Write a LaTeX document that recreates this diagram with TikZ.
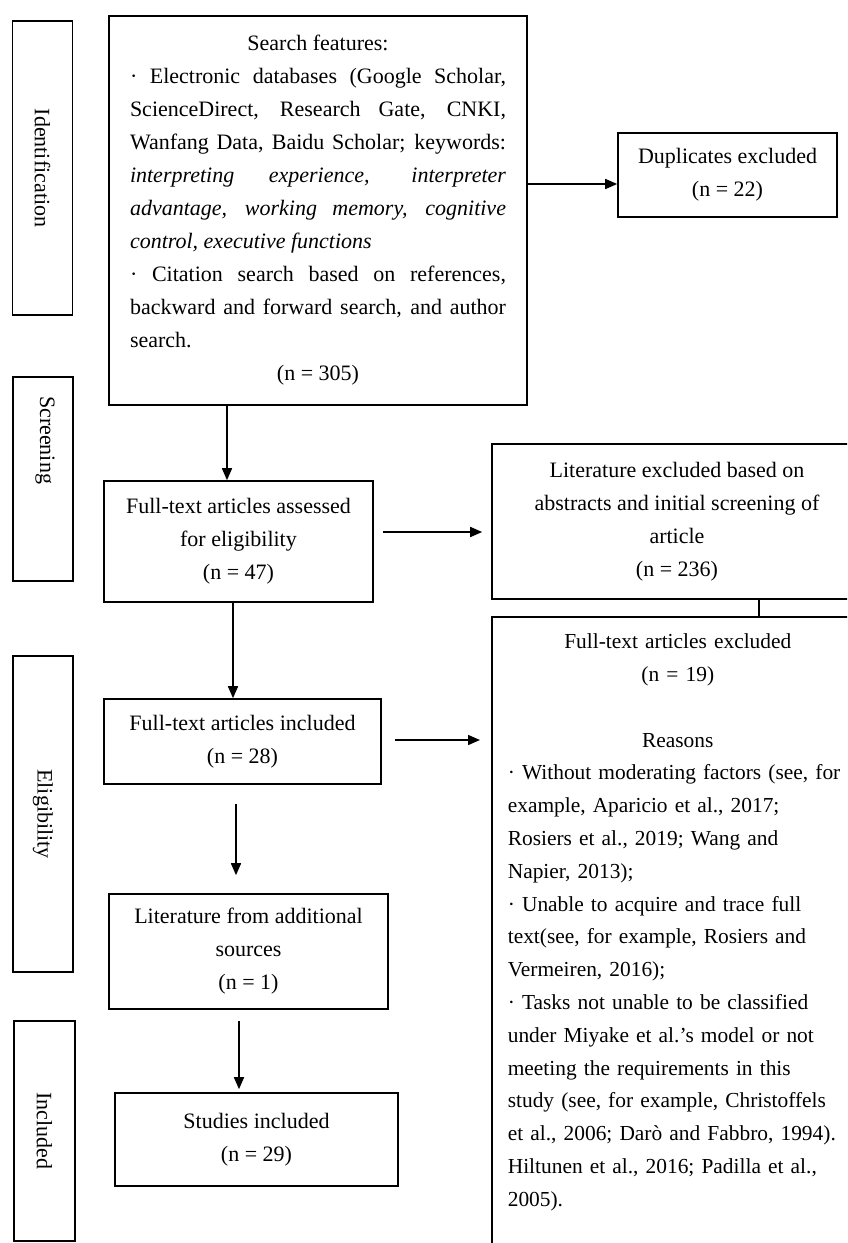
\documentclass[tikz,border=0pt]{standalone}
\usepackage{fontspec}
\setmainfont{Liberation Serif}
\usetikzlibrary{positioning,calc,arrows.meta}

\begin{document}
\begin{tikzpicture}[x=0.5pt,y=-0.5pt,
    flowbox/.style={draw, line width=0.8pt, align=center, font=\fontsize{11}{16.5}\selectfont},
    stagebox/.style={draw, line width=0.8pt, rotate=-90, minimum height=30pt, font=\fontsize{11}{13}\selectfont},
    stagetext/.style={rotate=-90, font=\fontsize{11}{13}\selectfont},
    arr/.style={line width=0.8pt, -{Triangle[length=6pt,width=5pt]}}]
    \useasboundingbox (0,0) rectangle (847,1243);
    \clip (0,0) rectangle (847,1243);

    % stages
    \node[stagebox, minimum width=147pt] (ident) at (42.5,168) {Identification};
    \node[stagebox, minimum width=102pt] (screen) at (43,479) {};
    \node[stagetext] (screentext) at (45,440) {Screening};
    \node[stagebox, minimum width=158pt] (elig) at (43,814) {Eligibility};
    \node[stagebox, minimum width=110pt, minimum height=30.5pt] (incl) at (44.5,1131) {Included};

    % main column
    \node[flowbox, text width=188pt, align=justify, minimum width=209pt, minimum height=194.5pt] (search) at (318,210.5) {%
        \centerline{Search features:}
        · Electronic databases (Google Scholar,\linebreak
        ScienceDirect, Research Gate, CNKI,\linebreak
        Wanfang Data, Baidu Scholar; keywords:\linebreak
        \textit{interpreting experience, interpreter}\linebreak
        \textit{advantage, working memory, cognitive}\linebreak
        \textit{control, executive functions}\par
        · Citation search based on references,\linebreak
        backward and forward search, and author\linebreak
        search.\par
        \centerline{(n = 305)}};
    \node[flowbox, minimum width=134.5pt, minimum height=60.5pt] (assess) at (238.5,541.5) {Full-text articles assessed\\for eligibility\\(n = 47)};
    \node[flowbox, minimum width=138.5pt, minimum height=42.5pt] (ftincl) at (242.5,741.5) {Full-text articles included\\(n = 28)};
    \node[flowbox, minimum width=139.5pt, minimum height=57.5pt] (litadd) at (248.5,951.5) {Literature from additional\\sources\\(n = 1)};
    \node[flowbox, minimum width=141.5pt, minimum height=46.5pt] (studies) at (256.5,1139.5) {Studies included\\(n = 29)};

    % excluded column
    \node[flowbox, minimum width=109.5pt, minimum height=42pt] (dup) at (727.5,175) {Duplicates excluded\\(n = 22)};
    \node[flowbox, minimum width=185pt, minimum height=77.5pt] (litexcl) at (677,521.5) {Literature excluded based on\\abstracts and initial screening of\\article\\(n = 236)};
    \node[flowbox, anchor=north west, text width=180pt, align=left, inner xsep=8pt, inner ysep=8.5pt,
          font=\fontsize{10.7}{16.4}\selectfont] (ftexcl) at (491,616) {%
        \makebox[170pt]{Full-text articles excluded}\\
        \makebox[170pt]{(n = 19)}\\
        \mbox{}\\
        \makebox[170pt]{Reasons}\\
        · Without moderating factors (see, for\\
        example, Aparicio et al., 2017;\\
        Rosiers et al., 2019; Wang and\\
        Napier, 2013);\\
        · Unable to acquire and trace full\\
        text(see, for example, Rosiers and\\
        Vermeiren, 2016);\\
        · Tasks not unable to be classified\\
        under Miyake et al.'s model or not\\
        meeting the requirements in this\\
        study (see, for example, Christoffels\\
        et al., 2006; Darò and Fabbro, 1994).\\
        Hiltunen et al., 2016; Padilla et al.,\\
        2005).\par
        \vspace*{40pt}\null};

    % connectors
    \draw[arr] ($(assess.north |- search.south)+(-11.5,0)$) -- ($(assess.north)+(-11.5,0)$);
    \draw[arr] ($(search.east |- dup.west)+(0,9)$) -- ($(dup.west)+(0,9)$);
    \draw[arr] ($(assess.east)+(9,-9.5)$) -- ($(litexcl.west |- assess.east)+(-9,-9.5)$);
    \draw[line width=0.8pt] ($(litexcl.south)+(82,0)$) -- ($(litexcl.south |- ftexcl.north)+(82,0)$);
    \draw[arr] ($(assess.south)+(-5.5,0)$) -- ($(assess.south |- ftincl.north)+(-5.5,0)$);
    \draw[arr] ($(ftincl.east)+(13,-1.5)$) -- ($(ftexcl.west |- ftincl.east)+(-11,-1.5)$);
    \draw[arr] ($(ftincl.south)+(-6.5,19)$) -- ($(litadd.north)+(-12.5,-18)$);
    \draw[arr] ($(litadd.south)+(-9.5,11)$) -- ($(studies.north)+(-17.5,-3)$);
\end{tikzpicture}
\end{document}
